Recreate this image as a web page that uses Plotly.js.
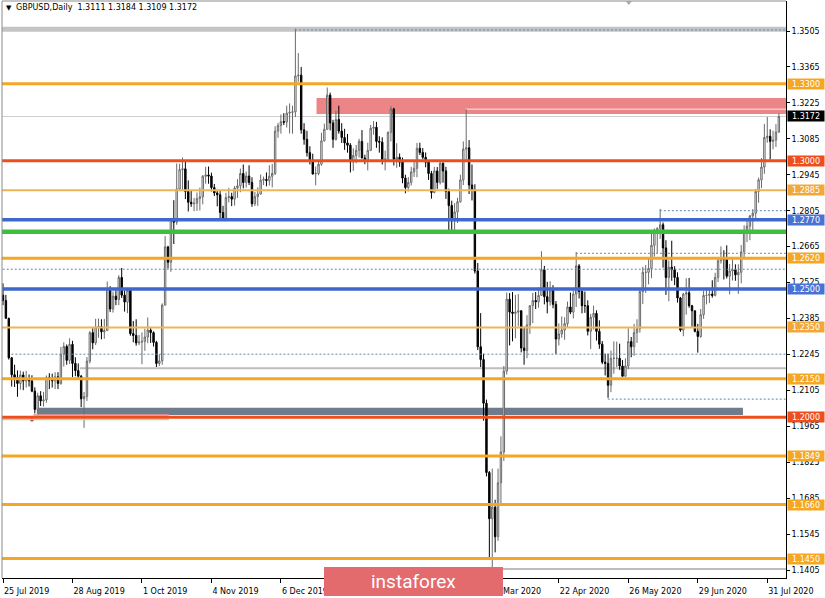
<!DOCTYPE html>
<html>
<head>
<meta charset="utf-8">
<script src="https://cdn.plot.ly/plotly-3.0.1.min.js"></script>
<style>html,body{margin:0;padding:0;background:#fff}#chart{width:825px;height:598px}</style>
</head>
<body>
<div id="chart"></div>
<script>
// ---------- DATA (GBPUSD Daily) ----------
const symbolTitle = "GBPUSD,Daily";
const startDate = "2019-07-25";
const holidays = ["2019-12-25", "2020-01-01"];

const opens = [
1.2476,1.2455,1.2385,1.2232,1.2166,1.2155,1.2132,1.2165,1.2142,1.2148,
1.2142,1.2102,1.2031,1.2084,1.2064,1.2068,1.2156,1.2148,1.2142,1.2158,
1.2132,1.2246,1.2276,1.2222,1.2284,1.2210,1.2182,1.2160,1.2072,1.2081,
1.2219,1.2330,1.2290,1.2352,1.2353,1.2333,1.2338,1.2500,1.2422,1.2472,
1.2459,1.2545,1.2476,1.2449,1.2495,1.2326,1.2319,1.2290,1.2293,1.2296,
1.2313,1.2340,1.2330,1.2292,1.2210,1.2220,1.2437,1.2664,1.2604,1.2770,
1.2760,1.2890,1.2965,1.2968,1.2880,1.2838,1.2832,1.2834,1.2852,1.2859,
1.2939,1.2944,1.2940,1.2895,1.2874,1.2867,1.2798,1.2775,1.2856,1.2860,
1.2850,1.2893,1.2902,1.2950,1.2915,1.2940,1.2915,1.2832,1.2860,1.2870,
1.2924,1.2927,1.2923,1.2939,1.2950,1.3115,1.3137,1.3152,1.3150,1.3185,
1.3188,1.3190,1.3330,1.3333,1.3120,1.3083,1.3031,1.3002,1.2948,1.2950,
1.2986,1.3077,1.3122,1.3255,1.3147,1.3083,1.3160,1.3115,1.3090,1.3069,
1.3060,1.2995,1.3020,1.3040,1.3075,1.3010,1.3000,1.3040,1.3126,1.3130,
1.3075,1.3072,1.3000,1.3007,1.3110,1.3201,1.3005,1.3013,1.2994,1.2932,
1.2895,1.2915,1.2956,1.2970,1.3048,1.3032,1.3013,1.2994,1.2950,1.2876,
1.2960,1.2915,1.2990,1.2960,1.2880,1.2825,1.2765,1.2800,1.2840,1.2925,
1.3045,1.3050,1.2905,1.2885,1.2570,1.2275,1.2225,1.2055,1.1785,1.1605,
1.1650,1.1535,1.1745,1.1865,1.2180,1.2460,1.2410,1.2405,1.2410,1.2415,
1.2270,1.2260,1.2360,1.2435,1.2455,1.2450,1.2475,1.2575,1.2470,1.2450,
1.2495,1.2440,1.2305,1.2325,1.2340,1.2365,1.2430,1.2410,1.2480,1.2590,
1.2490,1.2435,1.2435,1.2335,1.2390,1.2405,1.2335,1.2285,1.2215,1.2210,
1.2125,1.2230,1.2230,1.2230,1.2200,1.2160,1.2200,1.2295,1.2275,1.2330,
1.2345,1.2490,1.2565,1.2565,1.2580,1.2670,1.2720,1.2735,1.2750,1.2660,
1.2545,1.2585,1.2575,1.2545,1.2465,1.2340,1.2480,1.2485,1.2435,1.2415,
1.2335,1.2315,1.2400,1.2475,1.2475,1.2480,1.2475,1.2545,1.2610,1.2620,
1.2615,1.2550,1.2570,1.2575,1.2555,1.2565,1.2645,1.2725,1.2745,1.2785,
1.2795,1.2880,1.2925,1.2975,1.3090,1.3095,1.3075,1.3080,1.3111
];
const highs = [
1.2522,1.2477,1.2389,1.2234,1.2205,1.2183,1.2182,1.2178,1.2181,1.2167,
1.2164,1.2117,1.2096,1.2102,1.2099,1.2163,1.2172,1.2170,1.2176,1.2176,
1.2274,1.2292,1.2284,1.2308,1.2298,1.2234,1.2210,1.2165,1.2099,1.2235,
1.2336,1.2347,1.2384,1.2385,1.2382,1.2383,1.2529,1.2511,1.2490,1.2501,
1.2554,1.2582,1.2494,1.2501,1.2496,1.2375,1.2382,1.2321,1.2331,1.2345,
1.2389,1.2352,1.2335,1.2298,1.2245,1.2444,1.2706,1.2668,1.2777,1.2846,
1.2989,1.2988,1.3012,1.3000,1.2923,1.2884,1.2855,1.2876,1.2895,1.2944,
1.2976,1.2977,1.2953,1.2909,1.2886,1.2886,1.2824,1.2875,1.2894,1.2875,
1.2901,1.2928,1.2969,1.2985,1.2957,1.2982,1.2935,1.2878,1.2896,1.2946,
1.2938,1.2954,1.2982,1.2987,1.3134,1.3147,1.3180,1.3185,1.3214,1.3223,
1.3214,1.3514,1.3419,1.3365,1.3146,1.3116,1.3056,1.3027,1.2977,1.3001,
1.3109,1.3144,1.3285,1.3265,1.3159,1.3194,1.3214,1.3146,1.3124,1.3104,
1.3068,1.3048,1.3061,1.3085,1.3119,1.3023,1.3070,1.3139,1.3154,1.3151,
1.3095,1.3091,1.3039,1.3114,1.3212,1.3206,1.3068,1.3028,1.3012,1.2945,
1.2936,1.2976,1.2997,1.3069,1.3070,1.3049,1.3032,1.3000,1.2960,1.2976,
1.2975,1.3002,1.2993,1.2976,1.2891,1.2844,1.2834,1.2855,1.2945,1.3075,
1.3200,1.3080,1.2985,1.2908,1.2601,1.2406,1.2248,1.2069,1.1791,1.1800,
1.1679,1.1800,1.1926,1.2200,1.2486,1.2484,1.2488,1.2477,1.2480,1.2417,
1.2353,1.2398,1.2433,1.2485,1.2488,1.2506,1.2647,1.2590,1.2528,1.2530,
1.2515,1.2453,1.2366,1.2393,1.2390,1.2451,1.2486,1.2495,1.2644,1.2597,
1.2497,1.2490,1.2456,1.2403,1.2435,1.2417,1.2378,1.2297,1.2248,1.2248,
1.2260,1.2296,1.2295,1.2287,1.2223,1.2230,1.2347,1.2313,1.2364,1.2382,
1.2503,1.2586,1.2593,1.2620,1.2730,1.2736,1.2741,1.2812,1.2759,1.2690,
1.2611,1.2688,1.2589,1.2565,1.2469,1.2485,1.2542,1.2543,1.2438,1.2416,
1.2364,1.2422,1.2494,1.2504,1.2500,1.2534,1.2563,1.2617,1.2666,1.2651,
1.2670,1.2597,1.2619,1.2596,1.2596,1.2671,1.2748,1.2768,1.2788,1.2811,
1.2890,1.2934,1.3010,1.3143,1.3170,1.3122,1.3117,1.3142,1.3184
];
const lows = [
1.2437,1.2384,1.2225,1.2120,1.2118,1.2080,1.2108,1.2106,1.2116,1.2120,
1.2098,1.2015,1.2022,1.2044,1.2042,1.2057,1.2110,1.2116,1.2110,1.2110,
1.2127,1.2198,1.2205,1.2208,1.2157,1.2160,1.2148,1.2040,1.1959,1.2064,
1.2210,1.2265,1.2282,1.2310,1.2304,1.2306,1.2338,1.2410,1.2408,1.2437,
1.2437,1.2465,1.2412,1.2406,1.2318,1.2292,1.2279,1.2281,1.2207,1.2259,
1.2289,1.2290,1.2276,1.2196,1.2200,1.2205,1.2437,1.2580,1.2567,1.2675,
1.2750,1.2885,1.2882,1.2850,1.2802,1.2820,1.2803,1.2804,1.2806,1.2830,
1.2910,1.2910,1.2880,1.2862,1.2822,1.2769,1.2765,1.2768,1.2837,1.2823,
1.2825,1.2855,1.2877,1.2892,1.2895,1.2905,1.2820,1.2823,1.2824,1.2868,
1.2905,1.2900,1.2903,1.2896,1.2944,1.3089,1.3105,1.3139,1.3129,1.3106,
1.3105,1.3170,1.3307,1.3105,1.3062,1.3016,1.2985,1.2946,1.2904,1.2943,
1.2980,1.3075,1.3120,1.3118,1.3050,1.3078,1.3105,1.3069,1.3042,1.3031,
1.2954,1.2960,1.2990,1.3012,1.3010,1.2986,1.2962,1.3037,1.3101,1.3050,
1.3031,1.2985,1.2962,1.2998,1.3075,1.2981,1.2972,1.2976,1.2912,1.2873,
1.2880,1.2903,1.2936,1.2935,1.3022,1.3005,1.2974,1.2925,1.2852,1.2873,
1.2890,1.2907,1.2914,1.2851,1.2725,1.2726,1.2730,1.2757,1.2836,1.2905,
1.3000,1.2870,1.2845,1.2560,1.2262,1.2196,1.1987,1.1770,1.1450,1.1409,
1.1474,1.1519,1.1660,1.1830,1.2167,1.2280,1.2296,1.2308,1.2355,1.2253,
1.2205,1.2230,1.2325,1.2367,1.2422,1.2427,1.2475,1.2440,1.2405,1.2435,
1.2425,1.2247,1.2280,1.2310,1.2302,1.2349,1.2402,1.2385,1.2430,1.2463,
1.2405,1.2407,1.2319,1.2266,1.2342,1.2299,1.2267,1.2207,1.2163,1.2076,
1.2098,1.2170,1.2195,1.2185,1.2160,1.2160,1.2188,1.2234,1.2240,1.2290,
1.2330,1.2441,1.2485,1.2518,1.2542,1.2626,1.2640,1.2695,1.2583,1.2477,
1.2452,1.2532,1.2515,1.2447,1.2333,1.2316,1.2400,1.2427,1.2353,1.2331,
1.2252,1.2310,1.2384,1.2440,1.2445,1.2466,1.2471,1.2527,1.2599,1.2537,
1.2541,1.2479,1.2533,1.2532,1.2481,1.2522,1.2618,1.2683,1.2690,1.2721,
1.2765,1.2836,1.2893,1.2949,1.3070,1.3004,1.3044,1.3053,1.3109
];
const closes = [
1.2455,1.2386,1.2232,1.2166,1.2155,1.2132,1.2165,1.2142,1.2148,1.2142,
1.2102,1.2031,1.2084,1.2064,1.2068,1.2156,1.2148,1.2142,1.2158,1.2132,
1.2246,1.2276,1.2222,1.2284,1.2210,1.2182,1.2160,1.2072,1.2081,1.2219,
1.2330,1.2290,1.2352,1.2353,1.2333,1.2338,1.2500,1.2422,1.2472,1.2459,
1.2545,1.2476,1.2449,1.2495,1.2326,1.2319,1.2290,1.2293,1.2296,1.2313,
1.2340,1.2330,1.2292,1.2210,1.2220,1.2437,1.2664,1.2604,1.2770,1.2760,
1.2890,1.2965,1.2968,1.2880,1.2838,1.2832,1.2834,1.2852,1.2859,1.2939,
1.2944,1.2940,1.2895,1.2874,1.2867,1.2798,1.2775,1.2856,1.2860,1.2850,
1.2893,1.2902,1.2950,1.2915,1.2940,1.2915,1.2832,1.2860,1.2870,1.2924,
1.2927,1.2923,1.2939,1.2950,1.3115,1.3137,1.3152,1.3150,1.3185,1.3188,
1.3190,1.3330,1.3333,1.3120,1.3083,1.3031,1.3002,1.2948,1.2950,1.2986,
1.3077,1.3122,1.3255,1.3147,1.3083,1.3160,1.3115,1.3090,1.3069,1.3060,
1.2995,1.3020,1.3040,1.3075,1.3010,1.3000,1.3040,1.3126,1.3130,1.3075,
1.3072,1.3000,1.3007,1.3110,1.3201,1.3005,1.3013,1.2994,1.2932,1.2895,
1.2915,1.2956,1.2970,1.3048,1.3032,1.3013,1.2994,1.2950,1.2876,1.2960,
1.2915,1.2990,1.2960,1.2880,1.2825,1.2765,1.2800,1.2840,1.2925,1.3045,
1.3050,1.2905,1.2885,1.2570,1.2275,1.2225,1.2055,1.1785,1.1605,1.1650,
1.1535,1.1745,1.1865,1.2180,1.2460,1.2410,1.2405,1.2410,1.2415,1.2270,
1.2260,1.2360,1.2435,1.2455,1.2450,1.2475,1.2575,1.2470,1.2450,1.2495,
1.2440,1.2305,1.2325,1.2340,1.2365,1.2430,1.2410,1.2480,1.2590,1.2490,
1.2435,1.2435,1.2335,1.2390,1.2405,1.2335,1.2285,1.2215,1.2210,1.2125,
1.2230,1.2230,1.2230,1.2200,1.2160,1.2200,1.2295,1.2275,1.2330,1.2345,
1.2490,1.2565,1.2565,1.2580,1.2670,1.2720,1.2735,1.2750,1.2660,1.2545,
1.2585,1.2575,1.2545,1.2465,1.2340,1.2480,1.2485,1.2435,1.2415,1.2335,
1.2315,1.2400,1.2475,1.2475,1.2480,1.2475,1.2545,1.2610,1.2620,1.2615,
1.2550,1.2570,1.2575,1.2555,1.2565,1.2645,1.2725,1.2745,1.2785,1.2795,
1.2880,1.2925,1.2975,1.3090,1.3095,1.3075,1.3080,1.3111,1.3172
];

// price axis ticks
const yTickValues = [1.3505,1.3365,1.3225,1.3085,1.2945,1.2805,1.2665,1.2525,1.2385,1.2245,1.2105,1.1965,1.1825,1.1685,1.1545,1.1405];
// date axis ticks (the two January/February labels sit under the watermark and are not shown)
const tickDates  = ["2019-07-25","2019-08-28","2019-10-01","2019-11-04","2019-12-06","2020-03-19","2020-04-22","2020-05-26","2020-06-29","2020-07-31"];
const tickLabels = ["25 Jul 2019","28 Aug 2019","1 Oct 2019","4 Nov 2019","6 Dec 2019","19 Mar 2020","22 Apr 2020","26 May 2020","29 Jun 2020","31 Jul 2020"];

// horizontal levels drawn across the whole chart
const levelPrices = [1.3300,1.3000,1.2885,1.2770,1.2723,1.2620,1.2500,1.2350,1.2150,1.2000,1.1849,1.1660,1.1450];
const levelKinds  = ["orange","red","gold","blue","green","orange","blue","gold","orange","red","orange","orange","orange"];
const levelLabels = ["1.3300","1.3000","1.2885","1.2770","","1.2620","1.2500","1.2350","1.2150","1.2000","1.1849","1.1660","1.1450"];

// dotted lines: price and start date
const dotPrices = [1.3509,1.2805,1.2639,1.2577,1.2246,1.2071];
const dotStart  = ["2019-12-13","2020-06-10","2020-04-30","2019-07-25","2019-07-30","2020-05-15"];
// thin grey lines: price and start date
const greyPrices = [1.2191,1.1409];
const greyStart  = ["2019-09-02","2020-03-20"];
const bidPrice = 1.3172;
const lastBar = "1.3111 1.3184 1.3109 1.3172";
// zones
const resistZone = {lo:1.3182, hi:1.3244, from:"2019-12-24"};
const topBand = {lo:1.3502, hi:1.3522};
const lowBand = {lo:1.2009, hi:1.2037, from:"2019-08-09", to:"2020-07-20"};
const oldHigh = {price:1.3200, from:"2020-03-09"};
const histLines = {pink:1.2009, green:1.1992, to:"2019-10-14", marker:1.1990, markerDate:"2019-08-08"};

// ---------- build trading dates (weekdays, no Christmas/New Year bar) ----------
const dates = [];
{
  const d = new Date(startDate + "T00:00:00Z");
  while (dates.length < closes.length) {
    const wd = d.getUTCDay();
    const s = d.toISOString().slice(0, 10);
    if (wd !== 0 && wd !== 6 && !holidays.includes(s)) dates.push(s);
    d.setUTCDate(d.getUTCDate() + 1);
  }
}
const idx = s => dates.indexOf(s);
const xs = dates.map((_, i) => i);

// ---------- styles ----------
const kindStyle = {
  orange: {color:"#F5A623", width:3, label:"#F5A623"},
  red:    {color:"#EE4E1C", width:3, label:"#EE4E1C"},
  gold:   {color:"#EDB654", width:2, label:"#F2A73A"},
  blue:   {color:"#3E69CC", width:3.5, label:"#4A72D4"},
  green:  {color:"#3CBF3C", width:4.5, label:null}
};
const FONT = "DejaVu Sans, Verdana, sans-serif";

const shapes = [];
const annotations = [];
const X_END = 271;

// zones (background)
shapes.push({type:"rect", xref:"paper", yref:"y", x0:0, x1:1, y0:topBand.lo, y1:topBand.hi, fillcolor:"#C4C4C4", line:{width:0}, layer:"below"});
shapes.push({type:"rect", xref:"x", yref:"y", x0:idx(resistZone.from)+0.3, x1:X_END, y0:resistZone.lo, y1:resistZone.hi, fillcolor:"#EC8585", line:{width:0}, layer:"below"});
shapes.push({type:"rect", xref:"x", yref:"y", x0:idx(lowBand.from)+0.7, x1:idx(lowBand.to)+0.6, y0:lowBand.lo, y1:lowBand.hi, fillcolor:"#6E7C8C", line:{width:0}, layer:"below"});

// old high line inside the zone
shapes.push({type:"line", xref:"x", yref:"y", x0:idx(oldHigh.from)-0.2, x1:X_END, y0:oldHigh.price, y1:oldHigh.price, line:{color:"#F6C8C8", width:1.5}, layer:"below"});

// bid line
shapes.push({type:"line", xref:"paper", yref:"y", x0:0, x1:1, y0:bidPrice, y1:bidPrice, line:{color:"#CFCFCF", width:1.2}, layer:"below"});

// grey thin lines
greyPrices.forEach((p, i) => {
  shapes.push({type:"line", xref:"x", yref:"y", x0:idx(greyStart[i]) - 0.4, x1:X_END, y0:p, y1:p, line:{color:"#BDBDBD", width:2}, layer:"below"});
});

// dotted lines
dotPrices.forEach((p, i) => {
  shapes.push({type:"line", xref:"x", yref:"y", x0:idx(dotStart[i]) - 0.1, x1:X_END, y0:p, y1:p, line:{color:"#5E87AE", width:1, dash:"2px,2px"}, layer:"above"});
});

// historical pink / green short lines
shapes.push({type:"line", xref:"x", yref:"y", x0:idx(histLines.markerDate)+0.5, x1:idx(histLines.to)+0.3, y0:histLines.pink, y1:histLines.pink, line:{color:"#F29A9A", width:1.5}, layer:"above"});
shapes.push({type:"line", xref:"x", yref:"y", x0:-1, x1:idx(histLines.to)+0.3, y0:histLines.green, y1:histLines.green, line:{color:"#A9D9B4", width:1.5}, layer:"above"});

// main levels
levelPrices.forEach((p, i) => {
  const st = kindStyle[levelKinds[i]];
  shapes.push({type:"line", xref:"paper", yref:"y", x0:0, x1:1, y0:p, y1:p, line:{color:st.color, width:st.width}, layer:"above"});
  if (levelLabels[i]) {
    annotations.push({xref:"paper", yref:"y", x:1, y:p, xanchor:"left", yanchor:"middle", xshift:1,
      text:levelLabels[i], showarrow:false, bgcolor:st.label, width:36, height:10, borderpad:0,
      font:{family:FONT, size:8, color:"#FFFFFF"}});
  }
});
// bid label
annotations.push({xref:"paper", yref:"y", x:1, y:bidPrice, xanchor:"left", yanchor:"middle", xshift:1,
  text:bidPrice.toFixed(4), showarrow:false, bgcolor:"#000000", width:36, height:10, borderpad:0,
  font:{family:FONT, size:8, color:"#FFFFFF"}});

// frame left/top (grey)
shapes.push({type:"line", xref:"paper", yref:"paper", x0:0, x1:0, y0:0, y1:1, line:{color:"#8C8C8C", width:1}});
shapes.push({type:"line", xref:"paper", yref:"paper", x0:0, x1:1, y0:1, y1:1, line:{color:"#8C8C8C", width:1}});
// shift marker
shapes.push({type:"path", xref:"paper", yref:"paper", path:"M 0.7955 1 L 0.8034 1 L 0.7995 0.993 Z", fillcolor:"#A8A8A8", line:{width:0}});

// header
annotations.push({xref:"paper", yref:"paper", x:0, y:0.9885, xanchor:"left", yanchor:"middle", xshift:2,
  text:"▼", showarrow:false, font:{family:FONT, size:7, color:"#000"}});
annotations.push({xref:"paper", yref:"paper", x:0, y:0.9885, xanchor:"left", yanchor:"middle", xshift:12,
  text:symbolTitle + "\u00a0\u00a0" + lastBar, showarrow:false, font:{family:FONT, size:8, color:"#000"}});

// watermark
shapes.push({type:"rect", xref:"paper", yref:"paper", x0:0.4107, x1:0.6390, y0:-0.0312, y1:0.0191, fillcolor:"#E36A6D", line:{width:0}, layer:"above"});
annotations.push({xref:"paper", yref:"paper", x:0.5249, y:-0.006, xanchor:"center", yanchor:"middle",
  text:"instaforex", showarrow:false, font:{family:"Roboto, Open Sans, sans-serif", size:19, color:"#FFFFFF"}});

// red marker dot
const markerTrace = {type:"scatter", mode:"markers", x:[idx(histLines.markerDate)], y:[histLines.marker],
  marker:{symbol:"square", size:3, color:"#D02020"}, hoverinfo:"skip"};

const candles = {
  type:"candlestick", x:xs, open:opens, high:highs, low:lows, close:closes,
  increasing:{line:{color:"#6A6A6A", width:1}, fillcolor:"#FFFFFF"},
  decreasing:{line:{color:"#000000", width:1}, fillcolor:"#000000"},
  whiskerwidth:0, hoverinfo:"skip"
};

const layout = {
  width:825, height:598,
  margin:{l:2, r:39, t:1, b:20, pad:0},
  paper_bgcolor:"#FFFFFF", plot_bgcolor:"#FFFFFF",
  showlegend:false,
  xaxis:{
    range:[-0.345, 270.47], showgrid:false, zeroline:false,
    showline:true, linecolor:"#000", linewidth:1,
    ticks:"outside", ticklen:4, tickcolor:"#000",
    tickvals:tickDates.map(idx), ticktext:tickLabels,
    ticklabelposition:"outside right", ticklabelstandoff:5,
    tickfont:{family:FONT, size:8, color:"#000"},
    rangeslider:{visible:false}, fixedrange:true
  },
  yaxis:{
    side:"right", range:[1.13741, 1.36219], showgrid:false, zeroline:false,
    showline:true, linecolor:"#000", linewidth:1,
    ticks:"outside", ticklen:3, tickcolor:"#000",
    tickvals:yTickValues, ticktext:yTickValues.map(v => v.toFixed(4)),
    tickfont:{family:FONT, size:8, color:"#000"}, fixedrange:true
  },
  shapes:shapes,
  annotations:annotations
};

Plotly.newPlot("chart", [candles, markerTrace], layout, {displayModeBar:false, staticPlot:true});
</script>
</body>
</html>
